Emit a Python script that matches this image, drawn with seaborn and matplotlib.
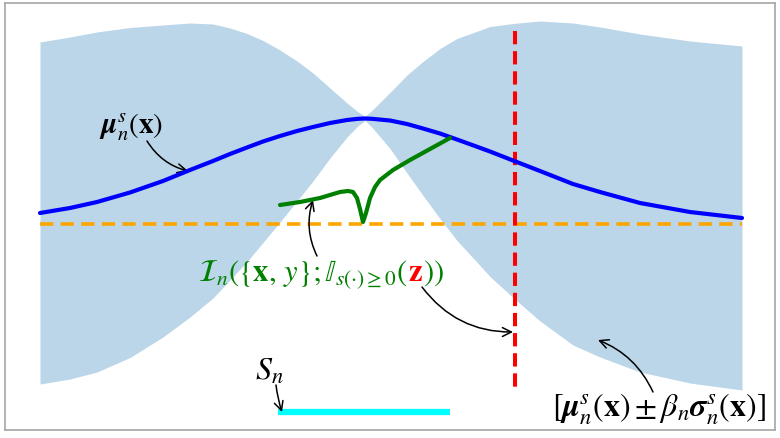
import numpy as np
import matplotlib
matplotlib.use("Agg")
import matplotlib.pyplot as plt
import seaborn as sns

grid_x = [40, 70, 97, 130, 163, 190, 213, 230, 247, 263, 280, 297, 313, 330, 347, 358, 365,
          372, 390, 407, 423, 440, 457, 475, 490, 513, 540, 573, 600, 640, 690, 742]
mean_y = [214, 209, 203, 193.5, 182, 171, 162, 155, 148.5, 142.5, 137, 132, 128, 124, 121, 119.8, 119.5,
          119.8, 121.5, 125, 129.5, 134.5, 140.5, 147, 152.5, 161.5, 172, 185, 193, 204, 213, 219]
sigma_y = [171, 171, 170, 165, 156, 147, 137, 126, 114, 101, 86, 70, 54, 35, 17, 7, 2,
           8.5, 28, 49, 67, 85, 101, 114, 125, 137, 150, 161, 165, 169, 171, 172]
beta = 1.0

acq_x = [280, 300, 320, 340, 348, 353, 357, 360, 363, 366, 370, 375, 380, 393, 410, 430, 450]
acq_y = [206, 203, 199, 193, 192, 193, 199, 210, 223, 214, 199, 188, 181, 171, 161, 150, 139]

threshold_y = 225
threshold_span = (40, 742)
query_x = 515
query_span = (32, 393)
safe_set_span = (278, 450)
safe_set_y = 413

sns.set_theme(style="white")
plt.rcParams["mathtext.fontset"] = "stix"
plt.rcParams["font.family"] = ["STIXGeneral", "DejaVu Serif"]
plt.rcParams["text.color"] = "black"
plt.rcParams["lines.solid_joinstyle"] = "round"

fig = plt.figure(figsize=(7.8, 4.39), dpi=100)
ax = fig.add_axes([5 / 780, 8 / 439, 770 / 780, 427 / 439])

mean = np.array(mean_y)
sigma = np.array(sigma_y)
ax.fill_between(grid_x, mean - beta * sigma, mean + beta * sigma, color="#bbd6e8", lw=0, zorder=1)

sns.lineplot(x=grid_x, y=mean_y, color="blue", lw=3, ax=ax, zorder=4)
ax.hlines(threshold_y, *threshold_span, color="orange", lw=2.6, linestyles=(0, (3.7, 2)), zorder=3)
ax.vlines(query_x, *query_span, color="red", lw=2.9, linestyles=(0, (3.3, 1.7)), zorder=3)
sns.lineplot(x=acq_x, y=acq_y, color="green", lw=3, ax=ax, zorder=5)
ax.hlines(safe_set_y, *safe_set_span, color="cyan", lw=4.5, zorder=3)

ax.set_xlim(5, 775)
ax.set_ylim(431, 4)
ax.set_xticks([])
ax.set_yticks([])
for sp in ax.spines.values():
    sp.set_color("#a6a6a6")
    sp.set_linewidth(1.2)

arrow = dict(arrowstyle="->", color="black", lw=1.1, mutation_scale=16, shrinkA=0, shrinkB=0)

# labels
ax.text(131, 127, r"$\boldsymbol{\mu}_n^s(\mathbf{x})$", fontsize=21, ha="center", va="center")
ax.text(269, 372, r"$S_n$", fontsize=23, ha="center", va="center")
ax.text(659, 409, r"$[\boldsymbol{\mu}_n^s(\mathbf{x}) \pm \beta_n\boldsymbol{\sigma}_n^s(\mathbf{x})]$",
        fontsize=23, ha="center", va="center")

# green label with a red z, built in three pieces on one baseline
base_y = 281
parts = [(r"$\mathcal{I}_n(\{\mathbf{x},\,y\};\mathbb{I}_{s(\cdot)\geq 0}($", "green"),
         (r"$\mathbf{z}$", "red"),
         (r"$))$", "green")]
x_pos = 198
fig.canvas.draw()
inv = ax.transData.inverted()
renderer = fig.canvas.get_renderer()
for txt, col in parts:
    t = ax.text(x_pos, base_y, txt, color=col, fontsize=22, ha="left", va="baseline", zorder=6)
    bb = t.get_window_extent(renderer)
    x_pos = inv.transform((bb.x1, bb.y0))[0]

# arrows
ax.annotate("", xy=(188, 172), xytext=(147, 142),
            arrowprops=dict(arrow, connectionstyle="arc3,rad=0.2"))
ax.annotate("", xy=(282, 413), xytext=(276, 386),
            arrowprops=dict(arrow, connectionstyle="arc3,rad=0.05"))
ax.annotate("", xy=(598, 341), xytext=(653, 393),
            arrowprops=dict(arrow, connectionstyle="arc3,rad=0.2"))
ax.annotate("", xy=(313, 201), xytext=(317, 257),
            arrowprops=dict(arrow, connectionstyle="arc3,rad=-0.2"))
ax.annotate("", xy=(513, 333), xytext=(422, 288),
            arrowprops=dict(arrow, connectionstyle="arc3,rad=0.25"))

fig.savefig("out.png", dpi=100)
